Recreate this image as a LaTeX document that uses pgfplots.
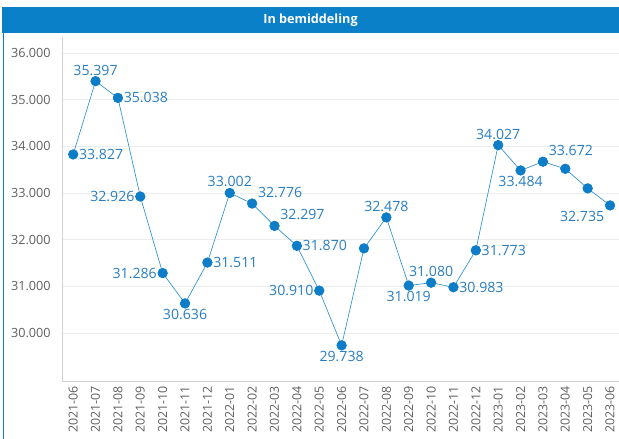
\documentclass[border=0pt]{standalone}
\usepackage{pgfplots}
\usepackage{pgfplotstable}
\pgfplotsset{compat=1.18}
\usepackage{fontspec}
\setmainfont{Open Sans}
\definecolor{barblue}{RGB}{10,128,200}
\definecolor{ptblue}{RGB}{12,125,198}
\definecolor{lblblue}{RGB}{40,125,192}
\definecolor{tickgray}{RGB}{95,95,95}

\pgfplotstableread[col sep=comma]{
x,y
0,33.827
1,35.397
2,35.038
3,32.926
4,31.286
5,30.636
6,31.511
7,33.002
8,32.776
9,32.297
10,31.870
11,30.910
12,29.738
13,31.815
14,32.478
15,31.019
16,31.080
17,30.983
18,31.773
19,34.027
20,33.484
21,33.672
22,33.520
23,33.100
24,32.735
}\dataline

\pgfplotsset{
  lbl/.style={draw=none, mark=none, nodes near coords, point meta=explicit symbolic,
    every node near coord/.append style={anchor=#1, font=\fontsize{10.6}{12}\selectfont, color=lblblue, inner sep=1.2pt, outer sep=3.2pt}},
}

\begin{document}
\begin{tikzpicture}[x=0.75pt,y=0.75pt]
\path[use as bounding box] (0,0) rectangle (619,439);
\fill[barblue] (2,406) rectangle (619,432);
\draw[barblue, line width=1.4pt] (3.5,0) -- (3.5,406);
\node[white, font=\bfseries\fontsize{9.5}{11}\selectfont] at (310.5,419) {In bemiddeling};
\begin{axis}[
  at={(46.5pt,43pt)}, anchor=south west,
  scale only axis, width=417.75pt, height=258.75pt,
  xmin=-0.5, xmax=24.4, ymin=28.96, ymax=36.35,
  axis x line*=bottom, axis y line*=left,
  axis line style={draw=black!18},
  tick style={draw=none},
  ymajorgrids, grid style={black!7},
  ytick={30,31,32,33,34,35,36},
  yticklabels={30.000,31.000,32.000,33.000,34.000,35.000,36.000},
  yticklabel style={font=\fontsize{9.5}{11}\selectfont, color=tickgray, xshift=-5pt},
  xtick={0,...,24},
  xticklabels={2021-06,2021-07,2021-08,2021-09,2021-10,2021-11,2021-12,2022-01,2022-02,2022-03,2022-04,2022-05,2022-06,2022-07,2022-08,2022-09,2022-10,2022-11,2022-12,2023-01,2023-02,2023-03,2023-04,2023-05,2023-06},
  xticklabel style={rotate=90, anchor=east, font=\fontsize{9.3}{11}\selectfont, color=tickgray},
  clip=false,
]
\addplot[ptblue!85, line width=0.5pt, mark=*, mark size=3.6pt, mark options={fill=ptblue, draw=ptblue}] table[x=x,y=y]{\dataline};
\addplot[lbl=west] coordinates {(0,33.827)[33.827] (2,35.038)[35.038] (6,31.511)[31.511] (10,31.870)[31.870] (17,30.983)[30.983] (18,31.773)[31.773]};
\addplot[lbl=east] coordinates {(3,32.926)[32.926] (4,31.286)[31.286] (11,30.910)[30.910]};
\addplot[lbl=south] coordinates {(1,35.397)[35.397] (7,33.002)[33.002] (14,32.478)[32.478] (16,31.080)[31.080] (19,34.027)[34.027]};
\addplot[lbl=north] coordinates {(5,30.636)[30.636] (12,29.738)[29.738] (15,31.019)[31.019] (20,33.484)[33.484]};
\addplot[lbl=south west] coordinates {(8,32.776)[32.776] (9,32.297)[32.297] (21,33.672)[33.672]};
\addplot[lbl=north east] coordinates {(24,32.735)[32.735]};
\end{axis}
\end{tikzpicture}
\end{document}
